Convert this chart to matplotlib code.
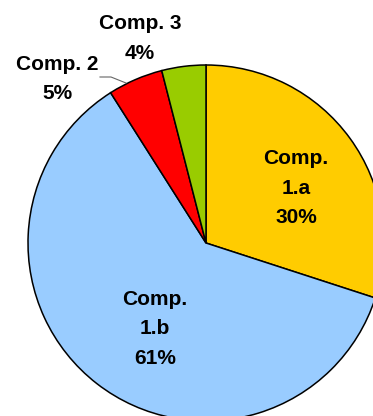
import matplotlib
matplotlib.use('Agg')
import matplotlib.pyplot as plt

# component shares, clockwise from 12 o'clock
labels = ['Comp.\n1.a\n30%', 'Comp.\n1.b\n61%', 'Comp. 2\n5%', 'Comp. 3\n4%']
shares = [30, 61, 5, 4]
colors = ['#FFCC00', '#99CCFF', '#FF0000', '#99CC00']

plt.rcParams['font.family'] = ['Liberation Sans', 'DejaVu Sans']

W, H = 373, 416
cx, cy, r = 206, 243, 178  # pie centre and radius in pixels

fig = plt.figure(figsize=(W / 100, H / 100), dpi=100)
ax = fig.add_axes([(cx - r) / W, (H - cy - r) / H, 2 * r / W, 2 * r / H])
ax.pie(shares, colors=colors, startangle=90, counterclock=False, radius=1,
       wedgeprops=dict(edgecolor='black', linewidth=1.1))
ax.set_xlim(-1, 1)
ax.set_ylim(-1, 1)
ax.set_aspect('equal')
ax.axis('off')


def to_data(px, py):
    return (px - cx) / r, (cy - py) / r


label_pos = [(296, 188), (155, 329), (57, 79), (140, 38.5)]
for txt, (px, py) in zip(labels, label_pos):
    x, y = to_data(px, py)
    ax.text(x, y, txt, ha='center', va='center', fontsize=15,
            fontweight='bold', linespacing=1.67, clip_on=False)

# leader line for Comp. 2
lx, ly = zip(*[to_data(100, 77), to_data(111, 77), to_data(126, 83)])
ax.plot(lx, ly, color='#666666', linewidth=0.8, clip_on=False)

fig.savefig('out.png', dpi=100)
